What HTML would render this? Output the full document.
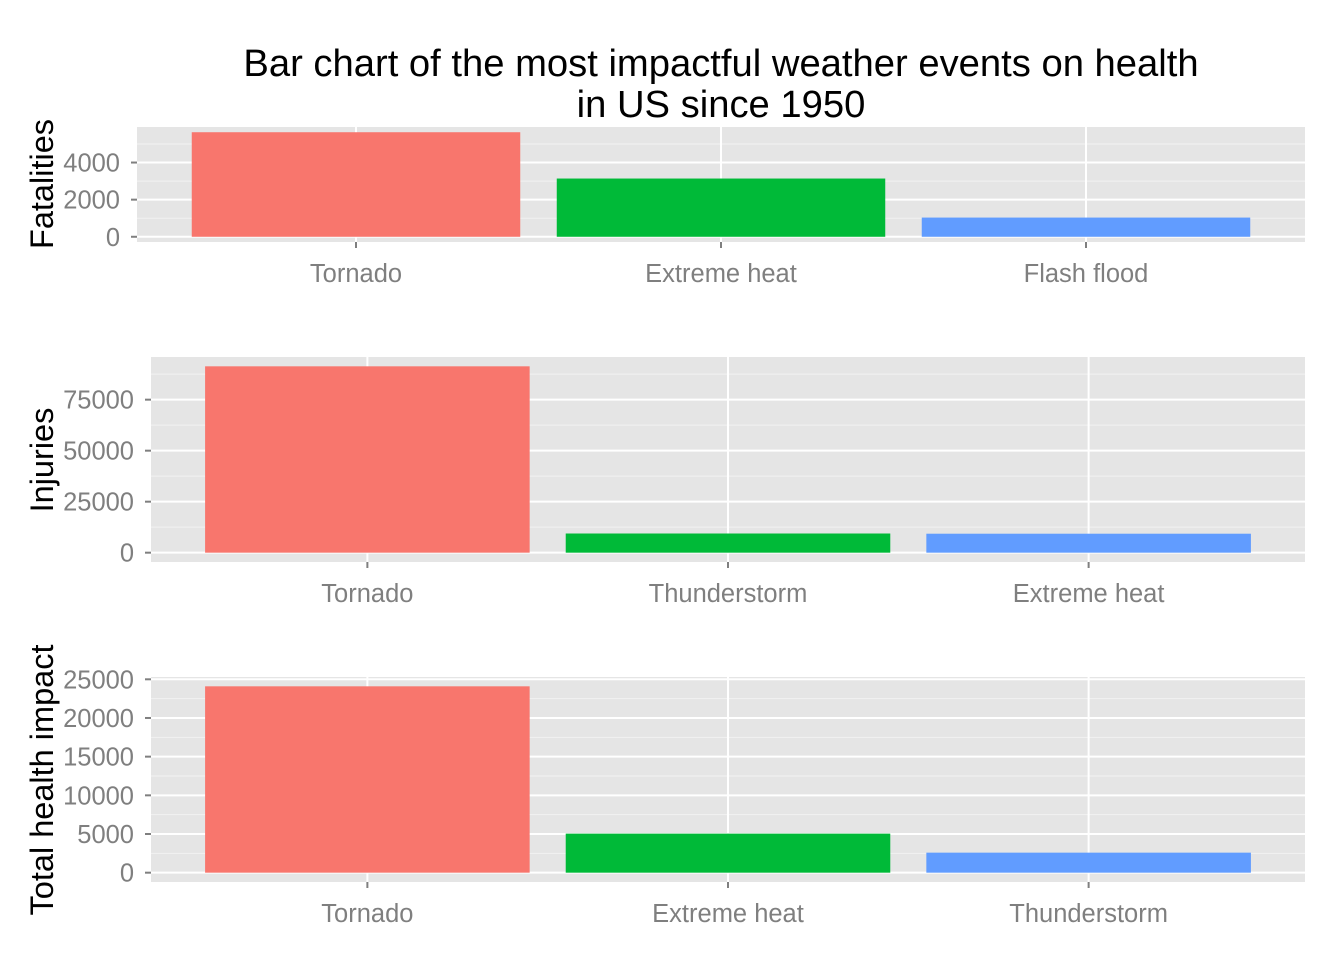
<!DOCTYPE html>
<html><head><meta charset="utf-8">
<style>
html,body{margin:0;padding:0;background:#fff;}
svg{display:block;font-family:"Liberation Sans",Arial,sans-serif;}
</style></head>
<body>
<svg id="chart" width="1344" height="960" viewBox="0 0 1344 960">
<rect width="1344" height="960" fill="#fff"/>
<text x="721" y="76" font-size="38.2" text-anchor="middle" fill="#000">Bar chart of the most impactful weather events on health</text>
<text x="721" y="117" font-size="38.2" text-anchor="middle" fill="#000">in US since 1950</text>
</svg>
<script>
const fatalCategories = ["Tornado", "Extreme heat", "Flash flood"];
const fatalValues = [5633, 3138, 1035];
const fatalTicks = [0, 2000, 4000];
const injuryCategories = ["Tornado", "Thunderstorm", "Extreme heat"];
const injuryValues = [91346, 9400, 9300];
const injuryTicks = [0, 25000, 50000, 75000];
const totalCategories = ["Tornado", "Extreme heat", "Thunderstorm"];
const totalValues = [24093, 5050, 2590];
const totalTicks = [0, 5000, 10000, 15000, 20000, 25000];
const colors = ["#F8766D", "#00BA38", "#619CFF"];

const NS = "http://www.w3.org/2000/svg";
const svg = document.getElementById("chart");
function mk(tag, attrs, parent) {
  const e = document.createElementNS(NS, tag);
  for (const k in attrs) e.setAttribute(k, attrs[k]);
  (parent || svg).appendChild(e);
  return e;
}

function panel(name, title, cats, vals, ticks, L, R, T, B, titleY) {
  const g = mk("g", {});
  
  
  const maxV = Math.max(...vals);
  const dMin = -0.05 * maxV, dMax = 1.05 * maxV;
  const y = v => B - (v - dMin) / (dMax - dMin) * (B - T);
  const band = (R - L) / (cats.length - 1 + 1.2);
  const x = i => L + band * (0.6 + i);
  mk("rect", {x: L, y: T, width: R - L, height: B - T, fill: "#e5e5e5"}, g);
  const step = ticks.length > 1 ? ticks[1] - ticks[0] : 1;
  for (let v = ticks[0] - step / 2; v <= dMax; v += step) {
    if (v < dMin) continue;
    mk("line", {x1: L, x2: R, y1: y(v), y2: y(v), stroke: "#f2f2f2", "stroke-width": 1}, g);
  }
  ticks.forEach(t => {
    mk("line", {x1: L, x2: R, y1: y(t), y2: y(t), stroke: "#fff", "stroke-width": 2}, g);
    mk("line", {x1: L - 6, x2: L, y1: y(t), y2: y(t), stroke: "#7f7f7f", "stroke-width": 2}, g);
    const lab = mk("text", {x: L - 17, y: y(t) + 9, "font-size": 25.5, fill: "#7f7f7f", "text-anchor": "end"}, g);
    
    
    lab.textContent = t;
  });
  cats.forEach((c, i) => {
    mk("line", {x1: x(i), x2: x(i), y1: T, y2: B, stroke: "#fff", "stroke-width": 2}, g);
  });
  cats.forEach((c, i) => {
    const w = band * 0.9;
    const bar = mk("rect", {x: x(i) - w / 2, y: y(vals[i]), width: w, height: y(0) - y(vals[i]), fill: colors[i]}, g);
    
    
    mk("line", {x1: x(i), x2: x(i), y1: B, y2: B + 6, stroke: "#7f7f7f", "stroke-width": 2}, g);
    const lab = mk("text", {x: x(i), y: B + 40, "font-size": 25.5, fill: "#7f7f7f", "text-anchor": "middle"}, g);
    
    
    lab.textContent = c;
  });
  const ty = mk("text", {x: 0, y: 0, "font-size": 32.5, fill: "#000", "text-anchor": "middle",
    transform: "translate(53," + titleY + ") rotate(-90)"}, g);
  
  
  ty.textContent = title;
}

panel("fatalities", "Fatalities", fatalCategories, fatalValues, fatalTicks, 137, 1305, 127, 242, 184);
panel("injuries", "Injuries", injuryCategories, injuryValues, injuryTicks, 151, 1305, 357, 562, 460);
panel("total", "Total health impact", totalCategories, totalValues, totalTicks, 151, 1305, 677, 882, 780);
</script>
</body></html>
